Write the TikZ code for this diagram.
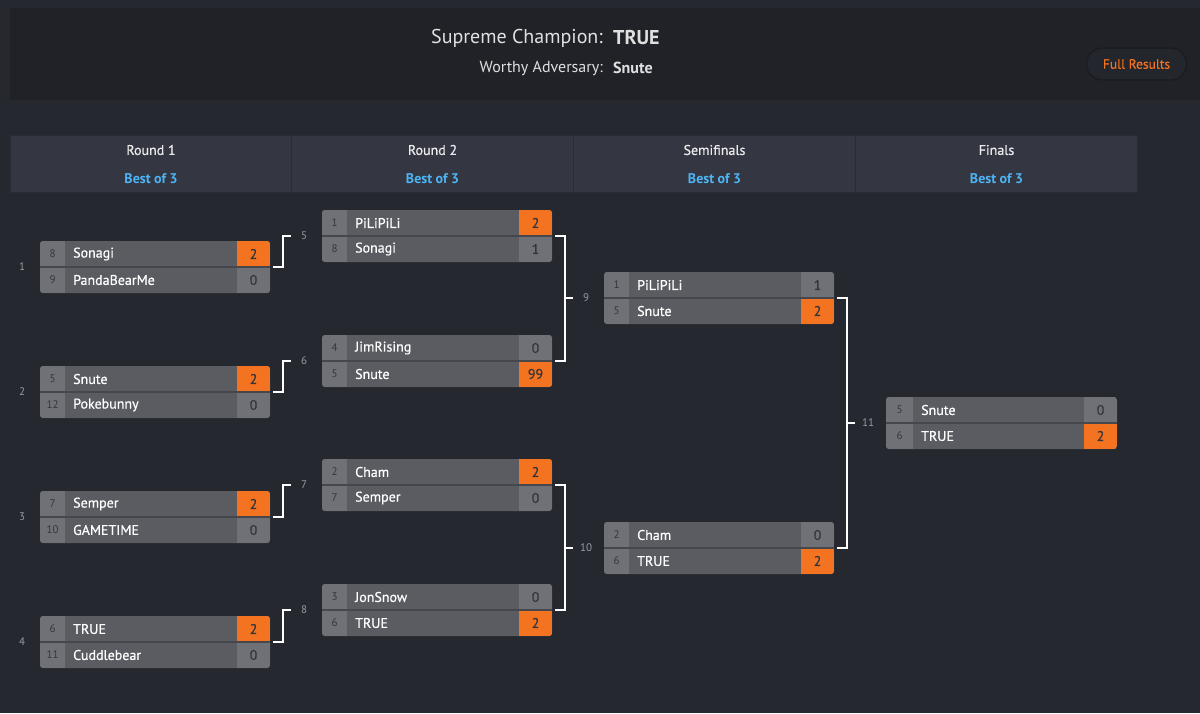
\documentclass[tikz,border=0pt]{standalone}
\usepackage{fontspec}
\setmainfont{PT Sans}
\newfontfamily\semib[FakeBold=0.6]{PT Sans}
\usetikzlibrary{calc}
\definecolor{pagebg}{HTML}{262830}
\definecolor{panelbg}{HTML}{202228}
\definecolor{headbg}{HTML}{343742}
\definecolor{headsep}{HTML}{2A2C33}
\definecolor{namec}{HTML}{5A5C62}
\definecolor{cellc}{HTML}{707177}
\definecolor{sepc}{HTML}{45474D}
\definecolor{wincol}{HTML}{F47321}
\definecolor{bluet}{HTML}{4DB5F5}
\definecolor{darkt}{HTML}{35363B}
\definecolor{labelt}{HTML}{9A9CA2}
\definecolor{btnbg}{HTML}{24262D}
\definecolor{btnline}{HTML}{1A1B20}
\tikzset{
  boxshape/.style={rectangle, rounded corners=3pt, inner sep=0pt, outer sep=0pt, fill=namec, anchor=north west, minimum height=52pt},
  seedt/.style={font=\fontsize{11}{12}\selectfont, text=darkt, inner sep=0pt},
  namet/.style={font=\semib\fontsize{14}{16}\selectfont, text=white, anchor=west, inner sep=0pt},
  scoret/.style={font=\semib\fontsize{14}{16}\selectfont, text=darkt, inner sep=0pt},
  br/.style={draw=white, line width=2pt},
  lbl/.style={font=\fontsize{11}{12}\selectfont, text=labelt, inner sep=0pt},
  headt/.style={font=\semib\fontsize{14}{16}\selectfont, text=white!92!black, inner sep=0pt},
  bestt/.style={font=\bfseries\fontsize{14}{16}\selectfont, text=bluet, inner sep=0pt},
  headcell/.style={rectangle, fill=headbg, draw=headsep, line width=1pt, inner sep=0pt, anchor=north west, minimum height=57pt},
}
% #1 id, #2 x, #3 y, #4 width, #5 seed width, #6 winning row
\newcommand\matchbox[6]{%
  \node[boxshape, minimum width=#4 pt] (#1) at (#2,#3) {};
  \begin{scope}
    \clip[rounded corners=3pt] (#1.north west) rectangle (#1.south east);
    \fill[cellc] (#1.north west) rectangle ($(#1.south west)+(#5,0)$);
    \fill[cellc] ($(#1.north east)+(-33,0)$) rectangle (#1.south east);
    \ifnum#6=1
      \fill[wincol] ($(#1.north east)+(-33,0)$) rectangle (#1.east);
    \else
      \fill[wincol] ($(#1.east)+(-33,0)$) rectangle (#1.south east);
    \fi
    \draw[sepc, line width=1.5pt] (#1.west) -- (#1.east);
  \end{scope}}
% #1 id, #2 row, #3 seed width, #4 seed, #5 name, #6 score
\newcommand\player[6]{%
  \node[seedt] (#1-s#2) at ($(#1.north west)+(#3/2,26*#2-13)$) {#4};
  \node[namet] (#1-n#2) at ($(#1.north west)+(#3+8,26*#2-13)$) {#5};
  \node[scoret] (#1-c#2) at ($(#1.north east)+(-16.5,26*#2-13)$) {#6};}
\begin{document}
\begin{tikzpicture}[x=1pt, y=-1pt]
\useasboundingbox (0,0) rectangle (1200,713);
\fill[pagebg] (0,0) rectangle (1200,713);
% top panel
\node[rectangle, fill=panelbg, inner sep=0pt, anchor=north west, minimum width=1190pt, minimum height=92pt] (panel) at (10,8) {};
\node[font=\fontsize{20}{22}\selectfont, text=white!88!black, anchor=east, inner sep=0pt] (chl) at (603,38) {Supreme Champion:};
\node[font=\bfseries\fontsize{20}{22}\selectfont, text=white!88!black, anchor=west, inner sep=0pt] (chv) at (613,38) {TRUE};
\node[font=\fontsize{16}{18}\selectfont, text=white!88!black, anchor=east, inner sep=0pt] (adl) at (603,68) {Worthy Adversary:};
\node[font=\bfseries\fontsize{16}{18}\selectfont, text=white!88!black, anchor=west, inner sep=0pt] (adv) at (613,68) {Snute};
\node[rectangle, rounded corners=16pt, fill=btnbg, draw=btnline, line width=1.2pt, minimum width=100pt, minimum height=32pt, inner sep=0pt, text=wincol, font=\semib\fontsize{13.5}{15}\selectfont] (btn) at (1136.5,64) {Full Results};
% header band
\node[headcell, minimum width=281pt] (h1) at (10,135) {};
\node[headcell, minimum width=282pt] (h2) at (291,135) {};
\node[headcell, minimum width=282pt] (h3) at (573,135) {};
\node[headcell, minimum width=282pt] (h4) at (855,135) {};
\node[headt] (h1t) at ($(h1.north)+(0,15)$) {Round 1};
\node[bestt] (h1b) at ($(h1.north)+(0,44)$) {Best of 3};
\node[headt] (h2t) at ($(h2.north)+(0,15)$) {Round 2};
\node[bestt] (h2b) at ($(h2.north)+(0,44)$) {Best of 3};
\node[headt] (h3t) at ($(h3.north)+(0,15)$) {Semifinals};
\node[bestt] (h3b) at ($(h3.north)+(0,44)$) {Best of 3};
\node[headt] (h4t) at ($(h4.north)+(0,15)$) {Finals};
\node[bestt] (h4b) at ($(h4.north)+(0,44)$) {Best of 3};
% Round 1
\matchbox{m1}{40}{241}{230}{25}{1}
\player{m1}{1}{25}{8}{Sonagi}{2}
\player{m1}{2}{25}{9}{PandaBearMe}{0}
\matchbox{m2}{40}{366}{230}{25}{1}
\player{m2}{1}{25}{5}{Snute}{2}
\player{m2}{2}{25}{12}{Pokebunny}{0}
\matchbox{m3}{40}{491}{230}{25}{1}
\player{m3}{1}{25}{7}{Semper}{2}
\player{m3}{2}{25}{10}{GAMETIME}{0}
\matchbox{m4}{40}{616}{230}{25}{1}
\player{m4}{1}{25}{6}{TRUE}{2}
\player{m4}{2}{25}{11}{Cuddlebear}{0}
% Round 2
\matchbox{m5}{322}{210}{230}{25}{1}
\player{m5}{1}{25}{1}{PiLiPiLi}{2}
\player{m5}{2}{25}{8}{Sonagi}{1}
\matchbox{m6}{322}{335}{230}{25}{2}
\player{m6}{1}{25}{4}{JimRising}{0}
\player{m6}{2}{25}{5}{Snute}{99}
\matchbox{m7}{322}{459}{230}{25}{1}
\player{m7}{1}{25}{2}{Cham}{2}
\player{m7}{2}{25}{7}{Semper}{0}
\matchbox{m8}{322}{584}{230}{25}{2}
\player{m8}{1}{25}{3}{JonSnow}{0}
\player{m8}{2}{25}{6}{TRUE}{2}
% Semifinals
\matchbox{m9}{604}{272}{230}{25}{2}
\player{m9}{1}{25}{1}{PiLiPiLi}{1}
\player{m9}{2}{25}{5}{Snute}{2}
\matchbox{m10}{604}{522}{230}{25}{2}
\player{m10}{1}{25}{2}{Cham}{0}
\player{m10}{2}{25}{6}{TRUE}{2}
% Finals
\matchbox{m11}{886}{397}{231}{27}{2}
\player{m11}{1}{27}{5}{Snute}{0}
\player{m11}{2}{27}{6}{TRUE}{2}
% match labels
\node[lbl] (l1) at ($(m1.west)+(-18,0)$) {1};
\node[lbl] (l2) at ($(m2.west)+(-18,0)$) {2};
\node[lbl] (l3) at ($(m3.west)+(-18,0)$) {3};
\node[lbl] (l4) at ($(m4.west)+(-18,0)$) {4};
\node[lbl] (l5) at ($(m5.west)+(-18,0)$) {5};
\node[lbl] (l6) at ($(m6.west)+(-18,0)$) {6};
\node[lbl] (l7) at ($(m7.west)+(-18,0)$) {7};
\node[lbl] (l8) at ($(m8.west)+(-18,0)$) {8};
\node[lbl] (l9) at ($(m9.west)+(-18,0)$) {9};
\node[lbl] (l10) at ($(m10.west)+(-18,0)$) {10};
\node[lbl] (l11) at ($(m11.west)+(-18,0)$) {11};
% brackets round 1 -> round 2
\draw[br] ($(m1.east)+(3,0)$) -- ++(10,0) |- ($(m5.west)+(-31,0)$);
\draw[br] ($(m2.east)+(3,0)$) -- ++(10,0) |- ($(m6.west)+(-31,0)$);
\draw[br] ($(m3.east)+(3,0)$) -- ++(10,0) |- ($(m7.west)+(-31,0)$);
\draw[br] ($(m4.east)+(3,0)$) -- ++(10,0) |- ($(m8.west)+(-31,0)$);
% brackets round 2 -> semis
\draw[br] ($(m5.east)+(3,0)$) -- ++(10,0) coordinate (b9) |- ($(m6.east)+(3,0)$);
\draw[br] (b9 |- m9.west) -- ($(m9.west)+(-31,0)$);
\draw[br] ($(m7.east)+(3,0)$) -- ++(10,0) coordinate (b10) |- ($(m8.east)+(3,0)$);
\draw[br] (b10 |- m10.west) -- ($(m10.west)+(-31,0)$);
% semis -> finals
\draw[br] ($(m9.east)+(3,0)$) -- ++(10,0) coordinate (b11) |- ($(m10.east)+(3,0)$);
\draw[br] (b11 |- m11.west) -- ($(m11.west)+(-31,0)$);
\end{tikzpicture}
\end{document}
